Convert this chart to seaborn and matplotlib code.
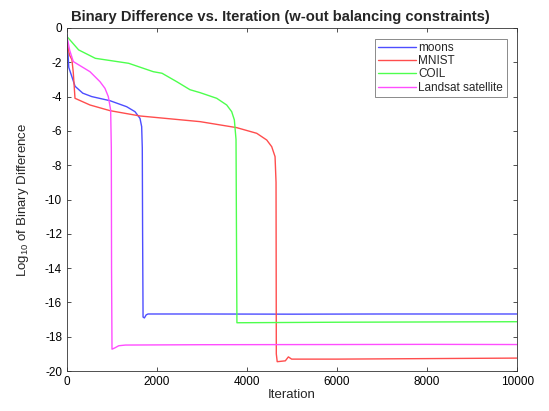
import matplotlib
matplotlib.use('Agg')
import matplotlib.pyplot as plt
import numpy as np
import pandas as pd
import seaborn as sns

# curves (iteration, log10 of binary difference)
moons_x = [0, 40, 180, 350, 550, 955, 1326, 1511, 1622, 1659, 1673, 1680, 1690, 1720, 1760, 1800, 3000, 5000, 7000, 10000]
moons_y = [-0.4, -2.3, -3.4, -3.8, -4.0, -4.24, -4.59, -4.88, -5.27, -5.75, -7.0, -12.0, -16.85, -16.9, -16.72, -16.67, -16.67, -16.68, -16.67, -16.67]

mnist_x = [0, 60, 110, 140, 178, 511, 955, 1622, 2956, 3770, 4215, 4437, 4548, 4622, 4644, 4650, 4670, 4850, 4918, 4990, 6000, 8000, 10000]
mnist_y = [-0.9, -1.6, -1.85, -2.6, -4.1, -4.49, -4.82, -5.13, -5.46, -5.81, -6.14, -6.53, -6.92, -7.5, -9.0, -19.0, -19.45, -19.4, -19.17, -19.3, -19.3, -19.27, -19.24]

coil_x = [0, 259, 630, 1370, 1918, 2111, 2437, 2733, 2956, 3326, 3548, 3659, 3718, 3755, 3765, 3775, 3800, 6000, 10000]
coil_y = [-0.5, -1.28, -1.77, -2.06, -2.55, -2.64, -3.13, -3.6, -3.77, -4.1, -4.49, -4.88, -5.36, -6.5, -12.0, -17.18, -17.18, -17.15, -17.12]

landsat_x = [0, 60, 141, 511, 733, 844, 918, 970, 985, 990, 1000, 1060, 1150, 1300, 3000, 6000, 8000, 10000]
landsat_y = [-0.5, -1.3, -1.96, -2.55, -3.13, -3.52, -4.0, -4.78, -7.0, -14.0, -18.72, -18.65, -18.52, -18.48, -18.46, -18.45, -18.44, -18.45]

labels = ['moons', 'MNIST', 'COIL', 'Landsat satellite']
colors = ['#4d4dff', '#ff4d4d', '#4dff4d', '#ff4dff']

x_ticks = [0, 2000, 4000, 6000, 8000, 10000]
y_ticks = list(range(0, -21, -2))

frames = []
for name, xs, ys in zip(labels, [moons_x, mnist_x, coil_x, landsat_x],
                        [moons_y, mnist_y, coil_y, landsat_y]):
    frames.append(pd.DataFrame({'Iteration': xs, 'value': ys, 'dataset': name}))
df = pd.concat(frames, ignore_index=True)

sns.set_style('ticks')
plt.rcParams['font.family'] = ['Liberation Sans', 'DejaVu Sans']
plt.rcParams['mathtext.fontset'] = 'custom'
plt.rcParams['mathtext.rm'] = 'Liberation Sans'
plt.rcParams['axes.unicode_minus'] = False

fig = plt.figure(figsize=(5.49, 4.11), dpi=100)
ax = fig.add_axes([0.122, 0.097, 0.820, 0.835])

sns.lineplot(data=df, x='Iteration', y='value', hue='dataset', hue_order=labels,
             palette=colors, estimator=None, sort=False, linewidth=1.0, ax=ax)

ax.set_xlim(0, 10000)
ax.set_ylim(-20, 0)
ax.set_xticks(x_ticks)
ax.set_yticks(y_ticks)
ax.tick_params(direction='in', top=True, right=True, labelsize=8.5, length=3, width=0.6,
               colors='#333333', labelcolor='black')
for s in ax.spines.values():
    s.set_visible(True)
    s.set_linewidth(0.6)
    s.set_edgecolor('#333333')
ax.set_xlabel('Iteration', fontsize=9.5, labelpad=1)
ax.set_ylabel('Log$_{10}$ of Binary Difference', fontsize=9.5, labelpad=10)
ax.set_title('Binary Difference vs. Iteration (w-out balancing constraints)',
             fontsize=10.6, fontweight='bold', pad=5, x=0.475)

leg = ax.legend(loc='upper right', fontsize=8.5, frameon=True, fancybox=False,
                borderaxespad=0.9, handlelength=3.2, handletextpad=0.2,
                labelspacing=0.1, borderpad=0.3)
leg.get_frame().set_edgecolor('#555555')
leg.get_frame().set_linewidth(0.6)

fig.savefig('out.png', dpi=100)
